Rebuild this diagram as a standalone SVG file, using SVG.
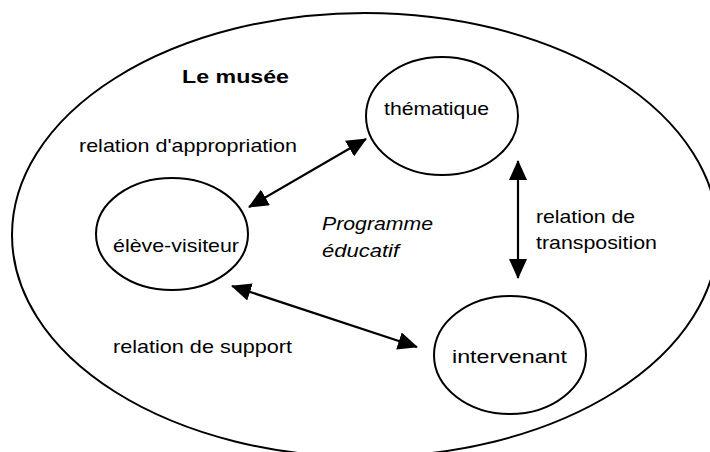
<svg xmlns="http://www.w3.org/2000/svg" width="710" height="452" viewBox="0 0 710 452">
<style>
  .shape { fill: none; stroke: #000; stroke-width: 2; }
  .lbl { font-family: "Liberation Sans", Arial, sans-serif; font-size: 18.5px; fill: #000; }
  .conn { stroke: #000; stroke-width: 2.2; fill: none; marker-start: url(#ah); marker-end: url(#ah); }
</style>
<defs>
  <marker id="ah" viewBox="0 0 20 18" refX="19" refY="9" markerWidth="20" markerHeight="18" markerUnits="userSpaceOnUse" orient="auto-start-reverse">
    <path d="M0,0 L20,9 L0,18 z" fill="#000"/>
  </marker>
</defs>
<rect width="710" height="452" fill="#fff"/>
<g id="musee">
  <ellipse class="shape" cx="365" cy="235" rx="353" ry="222"/>
  <text class="lbl" x="182" y="83" font-weight="bold" font-size="20px" textLength="107" lengthAdjust="spacingAndGlyphs">Le musée</text>
</g>
<g id="thematique">
  <ellipse class="shape" cx="442" cy="116" rx="76" ry="59"/>
  <text class="lbl" x="384" y="115" textLength="105" lengthAdjust="spacingAndGlyphs">thématique</text>
</g>
<g id="eleve-visiteur">
  <ellipse class="shape" cx="172" cy="234" rx="76" ry="56"/>
  <text class="lbl" x="113" y="252" textLength="126" lengthAdjust="spacingAndGlyphs">élève-visiteur</text>
</g>
<g id="intervenant">
  <ellipse class="shape" cx="510" cy="355" rx="76" ry="59"/>
  <text class="lbl" x="452" y="363" font-size="20px" textLength="115" lengthAdjust="spacingAndGlyphs">intervenant</text>
</g>
<g id="programme">
  <text class="lbl" x="322" y="230" font-style="italic" textLength="111" lengthAdjust="spacingAndGlyphs">Programme</text>
  <text class="lbl" x="322" y="257" font-style="italic" textLength="77" lengthAdjust="spacingAndGlyphs">éducatif</text>
</g>
<g id="connectors">
  <line class="conn" x1="249" y1="207" x2="366" y2="139"/>
  <line class="conn" x1="232" y1="286" x2="417" y2="347"/>
  <line class="conn" x1="518" y1="161" x2="518" y2="278" stroke-width="1.6"/>
</g>
<g id="labels">
  <text class="lbl" x="79" y="152" textLength="218" lengthAdjust="spacingAndGlyphs">relation d'appropriation</text>
  <text class="lbl" x="536" y="223" textLength="99" lengthAdjust="spacingAndGlyphs">relation de</text>
  <text class="lbl" x="536" y="249" textLength="121" lengthAdjust="spacingAndGlyphs">transposition</text>
  <text class="lbl" x="113" y="353" textLength="179" lengthAdjust="spacingAndGlyphs">relation de support</text>
</g>
</svg>
